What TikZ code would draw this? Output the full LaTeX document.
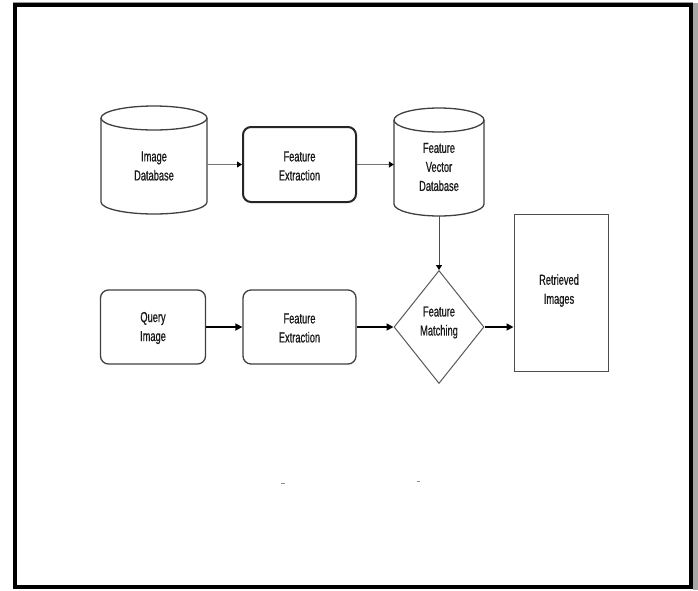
\documentclass[tikz,border=0pt]{standalone}
\usepackage{fontspec}
\newfontfamily\labfont[FakeStretch=0.64,FakeBold=0.6]{Liberation Sans}
\usetikzlibrary{shapes.geometric,arrows.meta}
\tikzset{
  lab/.style={font=\labfont\fontsize{14.5}{19}\selectfont, align=center, inner sep=0pt, text=black!90},
  boxshape/.style={draw=black!75, line width=1.3pt, rounded corners=8pt, minimum width=105pt, minimum height=75pt, inner sep=0pt},
  ghost/.style={inner sep=0pt, draw=none},
  cylline/.style={draw=black!75, line width=1.3pt},
  thinarrow/.style={draw=black!55, line width=0.9pt, -{Triangle[length=5pt,width=6pt,black]}},
  thickarrow/.style={draw=black, line width=1.6pt, -{Triangle[length=7pt,width=7pt]}},
}
\begin{document}
\begin{tikzpicture}[x=1pt,y=-1pt]
\useasboundingbox (0,0) rectangle (698,590);
\fill[white] (0,0) rectangle (698,590);
% frame with shadow
\fill[black!35] (693,3) rectangle (698,590);
\fill[black!40] (13,2) rectangle (693,3.2);
\draw[line width=4pt] (15,5) rectangle (691,587);

% ---------- Image Database cylinder ----------
\node[ghost, minimum width=106pt, minimum height=108pt] (idb) at (154,160) {};
\draw[cylline] (154,118) ellipse[x radius=53, y radius=12];
\draw[cylline] (101,118) -- (101,202) arc[start angle=180, end angle=0, x radius=53, y radius=12] -- (207,118);
\node[lab] (idbt) at (154,166) {Image\\Database};

% ---------- Feature Extraction (top) ----------
\node[boxshape, line width=2pt, draw=black!85, minimum width=113pt, minimum height=75pt] (fe1) at (299.5,164.5) {};
\node[lab] (fe1t) at (299.5,166) {Feature\\Extraction};

% ---------- Feature Vector Database cylinder ----------
\node[ghost, minimum width=90pt, minimum height=108pt] (fvd) at (439,162) {};
\draw[cylline] (439,120) ellipse[x radius=45, y radius=12];
\draw[cylline] (394,120) -- (394,204) arc[start angle=180, end angle=0, x radius=45, y radius=12] -- (484,120);
\node[lab] (fvdt) at (439,167) {Feature\\Vector\\Database};

% ---------- Query Image ----------
\node[boxshape, minimum width=105pt, minimum height=74pt] (qi) at (153,327) {};
\node[lab] (qit) at (153,328) {Query\\Image};

% ---------- Feature Extraction (bottom) ----------
\node[boxshape, minimum width=113pt, minimum height=74pt] (fe2) at (299.5,327) {};
\node[lab] (fe2t) at (299.5,328) {Feature\\Extraction};

% ---------- Feature Matching diamond ----------
\node[diamond, draw=black!65, line width=1pt, minimum width=90pt, minimum height=113pt, inner sep=0pt] (fm) at (439,327) {};
\node[lab] (fmt) at (439,322.5) {Feature\\Matching};

% ---------- Retrieved Images ----------
\node[draw=black!70, line width=1pt, minimum width=94pt, minimum height=157pt, inner sep=0pt] (ri) at (561,292.5) {};
\node[lab] (rit) at (559,290.5) {Retrieved\\Images};

% ---------- connectors ----------
\draw[thinarrow] (idb.east |- fe1.west) -- (fe1.west);
\draw[thinarrow] (fe1.east) -- (fe1.east -| fvd.west);
\draw[thinarrow, draw=black!70, line width=1pt] (fvd.south) -- (fm.north);
\draw[thickarrow] (qi.east) -- (fe2.west);
\draw[thickarrow] (fe2.east) -- (fm.west);
\draw[thickarrow] (fm.east) -- (fm.east -| ri.west);

% faint stray marks
\draw[black!45, line width=0.8pt] (281,483) -- (285,483);
\draw[black!45, line width=0.8pt] (417,481.5) -- (420,481.5);
\end{tikzpicture}
\end{document}
